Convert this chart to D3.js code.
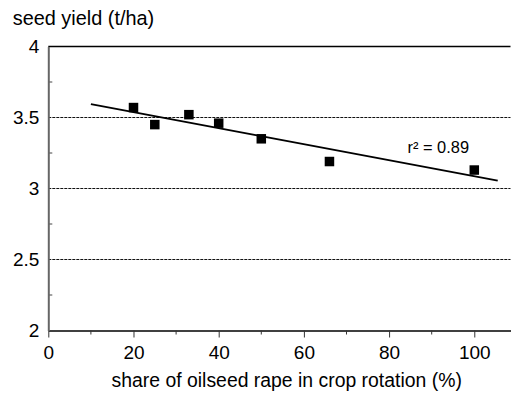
<!DOCTYPE html>
<html><head><meta charset="utf-8">
<script src="https://cdn.jsdelivr.net/npm/d3@7"></script>
<style>
html,body{margin:0;padding:0;background:#fff;}
text{font-family:"Liberation Sans",Arial,sans-serif;fill:#000;}
</style></head>
<body>
<script>
const share = [20, 25, 33, 40, 50, 66, 100];
const yieldVals = [3.57, 3.45, 3.52, 3.46, 3.35, 3.19, 3.13];
const xTicks = [0, 20, 40, 60, 80, 100];
const xMinor = [10, 30, 50, 70, 90];
const yTicks = [2, 2.5, 3, 3.5, 4];
const yTickLabels = ["2", "2.5", "3", "3.5", "4"];
const yMinor = [2.25, 2.75, 3.25, 3.75];
const fitRange = [10, 105.5];
const r2Label = "r² = 0.89";
const yTitle = "seed yield (t/ha)";
const xTitle = "share of oilseed rape in crop rotation (%)";

const W = 511, H = 396;
const svg = d3.select("body").append("svg").attr("width", W).attr("height", H);

const x = d3.scaleLinear().domain([0, 108.5]).range([48.3, 510.5]);
const y = d3.scaleLinear().domain([2, 4]).range([330.5, 46.5]);

// gridlines
svg.append("g").selectAll("line").data([2.5, 3, 3.5]).join("line")
  .attr("x1", x(0)).attr("x2", x(108.5))
  .attr("y1", d => y(d)).attr("y2", d => y(d))
  .attr("stroke", "#111").attr("stroke-width", 1).attr("stroke-dasharray", "3,1");
// top border
svg.append("line").attr("x1", x(0)).attr("x2", x(108.5)).attr("y1", y(4)).attr("y2", y(4))
  .attr("stroke", "#000").attr("stroke-width", 1.5);

// y minor ticks (inside)
svg.append("g").selectAll("line").data(yMinor).join("line")
  .attr("x1", x(0)).attr("x2", x(0) + 4)
  .attr("y1", d => y(d)).attr("y2", d => y(d))
  .attr("stroke", "#444").attr("stroke-width", 1);

// x axis
const xAxis = d3.axisBottom(x).tickValues(xTicks).tickSize(7).tickPadding(8).tickSizeOuter(0);
const gx = svg.append("g").attr("transform", `translate(0,${y(2)})`).call(xAxis);
gx.select(".domain").attr("stroke", "#000").attr("stroke-width", 1.5);
gx.selectAll(".tick line").attr("stroke", "#333").attr("stroke-width", 1);
gx.selectAll(".tick text").attr("font-size", 19).attr("font-family", "Liberation Sans, Arial, sans-serif").attr("fill", "#000");
svg.append("g").selectAll("line").data(xMinor).join("line")
  .attr("x1", d => x(d)).attr("x2", d => x(d))
  .attr("y1", y(2)).attr("y2", y(2) + 4)
  .attr("stroke", "#333").attr("stroke-width", 1);

// y axis
const yAxis = d3.axisLeft(y).tickValues(yTicks).tickFormat((d, i) => yTickLabels[i]).tickSize(0).tickPadding(9).tickSizeOuter(0);
const gy = svg.append("g").attr("transform", `translate(${x(0)},0)`).call(yAxis);
gy.select(".domain").attr("stroke", "#666").attr("stroke-width", 2);
gy.selectAll(".tick text").attr("font-size", 19).attr("font-family", "Liberation Sans, Arial, sans-serif").attr("fill", "#000");

// regression line (least squares from the data)
const mx = d3.mean(share), my = d3.mean(yieldVals);
const sxy = d3.sum(share, (v, i) => (v - mx) * (yieldVals[i] - my));
const sxx = d3.sum(share, v => (v - mx) * (v - mx));
const slope = sxy / sxx, icpt = my - slope * mx;
const line = d3.line().x(d => x(d)).y(d => y(icpt + slope * d));
svg.append("path").datum(fitRange).attr("d", line)
  .attr("fill", "none").attr("stroke", "#000").attr("stroke-width", 2);

// points
const s = 9.5;
svg.append("g").selectAll("rect").data(share).join("rect")
  .attr("x", d => x(d) - s / 2).attr("y", (d, i) => y(yieldVals[i]) - s / 2)
  .attr("width", s).attr("height", s).attr("fill", "#000");

// r2 label
svg.append("text").attr("x", 407.5).attr("y", 152.7).attr("font-size", 16.4).text(r2Label);

// titles
svg.append("text").attr("x", 12.7).attr("y", 25).attr("font-size", 19.9).text(yTitle);
svg.append("text").attr("x", 286.7).attr("y", 387).attr("text-anchor", "middle").attr("font-size", 19.4).text(xTitle);
</script>
</body></html>
